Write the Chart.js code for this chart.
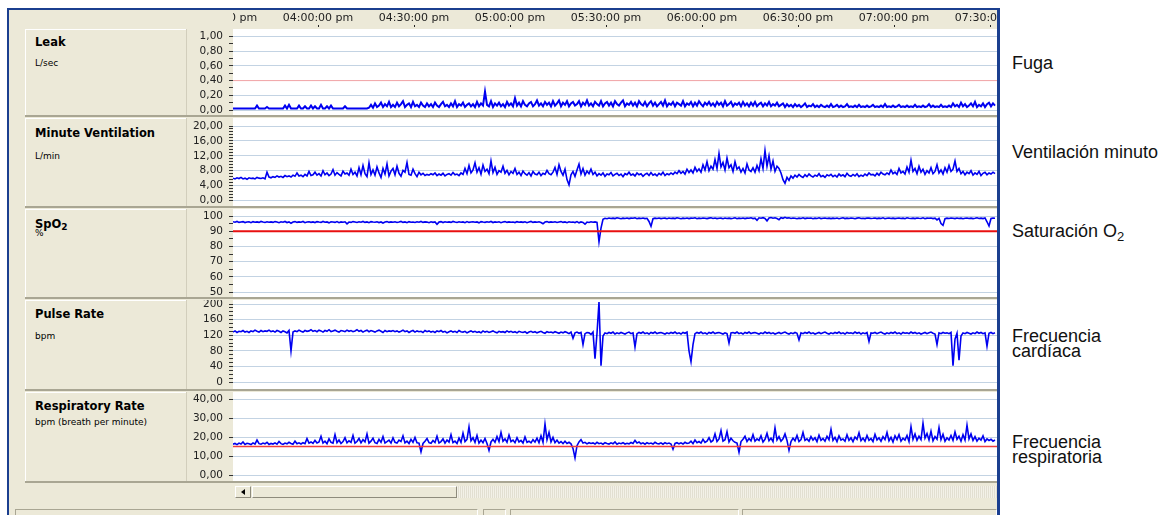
<!DOCTYPE html>
<html lang="es">
<head>
<meta charset="utf-8">
<title>Poligrafía nocturna</title>
<script src="https://cdn.jsdelivr.net/npm/chart.js@4.4.1/dist/chart.umd.min.js"></script>
<style>
  html, body { margin: 0; padding: 0; }
  body { width: 1168px; height: 515px; position: relative; overflow: hidden; background: #fff; font-family: "DejaVu Sans", sans-serif; }
  .abs { position: absolute; }
  #frame { left: 7px; top: 8px; width: 993px; height: 510px; box-sizing: border-box; background: #ECE9D8;
           border-top: 2px solid #1B3F8F; border-left: 2px solid #1B3F8F; border-right: 3px solid #1B3F8F; }
  .lbl { left: 25px; width: 162px; box-sizing: border-box; border-top: 1px solid #fff; border-left: 1px solid #fff; }
  .vsep { left: 186px; width: 1px; background: #D2CEBC; }
  .plotbg { left: 233px; width: 764px; background: #fff; }
  .hsep { left: 25px; width: 972px; height: 3px; box-sizing: border-box; background: #ECE9D8; border-top: 2px solid #A9A693; z-index: 2; }
  .title { left: 35px; font-weight: bold; font-size: 11.5px; line-height: 13px; color: #000; white-space: nowrap; }
  .title sub { font-size: 9px; vertical-align: -2px; line-height: 0; }
  .unit { left: 35px; font-size: 9px; line-height: 10px; color: #000; white-space: nowrap; }
  canvas.panel { position: absolute; left: 187px; z-index: 1; }
  #hdrWrap { left: 233px; top: 10px; width: 764px; height: 19px; overflow: hidden; }
  #hdr { position: absolute; left: -96px; top: 0; }
  .es { left: 1012px; font-family: "Liberation Sans", Arial, sans-serif; font-size: 18px; line-height: 18px; color: #111; white-space: nowrap; }
  .es2 { line-height: 15px; }
  .es sub { font-size: 13px; vertical-align: -4px; line-height: 0; }
  .btn { box-sizing: border-box; background: #ECE9D8; border-top: 1px solid #fff; border-left: 1px solid #fff;
         border-right: 1px solid #8E8B7C; border-bottom: 1px solid #8E8B7C; }
  #track { left: 457px; top: 486px; width: 540px; height: 12px;
           background: repeating-linear-gradient(90deg, #F3F1E8 0 1px, #E2DFD1 1px 2px); }
  .stat { top: 509px; height: 10px; box-sizing: border-box; background: #ECE9D8; border-top: 1px solid #A9A693; border-left: 1px solid #A9A693; border-right: 1px solid #fff; }
</style>
</head>
<body>
<div id="frame" class="abs"></div>

<!-- time header -->
<div id="hdrWrap" class="abs"><canvas id="hdr" width="956" height="19"></canvas></div>

<!-- panel backgrounds -->
<div class="abs lbl" style="top:29px;height:86px"></div>
<div class="abs lbl" style="top:118px;height:88px"></div>
<div class="abs lbl" style="top:209px;height:88px"></div>
<div class="abs lbl" style="top:300px;height:89px"></div>
<div class="abs lbl" style="top:392px;height:89px"></div>
<div class="abs vsep" style="top:29px;height:452px"></div>
<div class="abs plotbg" style="top:29px;height:86px"></div>
<div class="abs plotbg" style="top:118px;height:88px"></div>
<div class="abs plotbg" style="top:209px;height:88px"></div>
<div class="abs plotbg" style="top:300px;height:89px"></div>
<div class="abs plotbg" style="top:392px;height:89px"></div>
<div class="abs hsep" style="top:115px"></div>
<div class="abs hsep" style="top:206px"></div>
<div class="abs hsep" style="top:297px"></div>
<div class="abs hsep" style="top:389px"></div>
<div class="abs hsep" style="top:481px"></div>

<!-- channel names -->
<div class="abs title" style="top:36px">Leak</div>
<div class="abs unit" style="top:58px">L/sec</div>
<div class="abs title" style="top:127px">Minute Ventilation</div>
<div class="abs unit" style="top:151px">L/min</div>
<div class="abs title" style="top:218px">SpO<sub>2</sub></div>
<div class="abs unit" style="top:228px">%</div>
<div class="abs title" style="top:308px">Pulse Rate</div>
<div class="abs unit" style="top:331px">bpm</div>
<div class="abs title" style="top:400px">Respiratory Rate</div>
<div class="abs unit" style="top:417px">bpm (breath per minute)</div>

<!-- channel plots -->
<canvas id="cLeak" class="panel" width="810" height="86" style="top:29px"></canvas>
<canvas id="cVent" class="panel" width="810" height="88" style="top:118px"></canvas>
<canvas id="cSpo2" class="panel" width="810" height="88" style="top:209px"></canvas>
<canvas id="cPulse" class="panel" width="810" height="89" style="top:300px"></canvas>
<canvas id="cResp" class="panel" width="810" height="89" style="top:392px"></canvas>

<!-- horizontal scroll bar -->
<div class="abs btn" style="left:235px;top:486px;width:16px;height:12px"></div>
<div class="abs" style="left:241px;top:489px;width:0;height:0;border-top:3px solid transparent;border-bottom:3px solid transparent;border-right:4px solid #000"></div>
<div class="abs btn" style="left:252px;top:486px;width:205px;height:12px"></div>
<div id="track" class="abs"></div>

<!-- status bar -->
<div class="abs stat" style="left:15px;width:463px"></div>
<div class="abs stat" style="left:483px;width:23px"></div>
<div class="abs stat" style="left:510px;width:229px"></div>
<div class="abs stat" style="left:742px;width:255px"></div>

<!-- Spanish channel names -->
<div class="abs es" style="top:54px">Fuga</div>
<div class="abs es" style="top:143px">Ventilación minuto</div>
<div class="abs es" style="top:222px">Saturación O<sub>2</sub></div>
<div class="abs es es2" style="top:329px">Frecuencia<br>cardíaca</div>
<div class="abs es es2" style="top:435px">Frecuencia<br>respiratoria</div>

<script>
// ---- recording time base (clock times, afternoon) ----
const viewStart = '03:33:26 pm';
const viewEnd = '07:32:11 pm';
const sampleStart = '03:33:26 pm';
const sampleIntervalSec = 37.5;
const clockTickMinutes = 30;

// ---- channel samples (20 per row) ----
const leakValues = [
  0.02,0.02,0.02,0.02,0.02,0.02,0.02,0.02,0.02,0.02,0.02,0.02,0.06,0.02,0.02,0.02,0.02,0.04,0.02,0.02,
  0.02,0.02,0.02,0.02,0.02,0.02,0.06,0.02,0.07,0.02,0.02,0.02,0.02,0.06,0.02,0.02,0.05,0.02,0.02,0.06,
  0.02,0.05,0.02,0.02,0.07,0.02,0.02,0.05,0.02,0.06,0.02,0.02,0.02,0.02,0.02,0.02,0.05,0.02,0.02,0.02,
  0.02,0.02,0.02,0.02,0.02,0.02,0.02,0.02,0.03,0.07,0.03,0.09,0.04,0.06,0.10,0.04,0.08,0.05,0.11,0.04,
  0.07,0.04,0.10,0.05,0.08,0.12,0.04,0.07,0.09,0.04,0.11,0.05,0.07,0.04,0.10,0.06,0.04,0.09,0.05,0.08,
  0.04,0.10,0.06,0.04,0.08,0.11,0.05,0.07,0.04,0.09,0.05,0.12,0.04,0.08,0.06,0.10,0.04,0.07,0.09,0.05,
  0.08,0.04,0.11,0.05,0.09,0.06,0.25,0.07,0.05,0.12,0.04,0.09,0.06,0.10,0.05,0.08,0.04,0.11,0.06,0.09,
  0.05,0.16,0.06,0.10,0.05,0.12,0.07,0.05,0.09,0.11,0.05,0.08,0.13,0.06,0.09,0.05,0.11,0.07,0.10,0.05,
  0.12,0.06,0.09,0.13,0.05,0.10,0.07,0.12,0.05,0.09,0.11,0.06,0.08,0.12,0.05,0.10,0.07,0.13,0.06,0.09,
  0.05,0.11,0.08,0.06,0.12,0.05,0.09,0.11,0.06,0.10,0.05,0.12,0.08,0.06,0.10,0.13,0.05,0.09,0.07,0.11,
  0.06,0.10,0.05,0.12,0.08,0.06,0.11,0.05,0.09,0.12,0.06,0.10,0.05,0.08,0.11,0.06,0.13,0.05,0.09,0.07,
  0.11,0.05,0.10,0.08,0.06,0.12,0.05,0.09,0.07,0.11,0.05,0.10,0.06,0.12,0.08,0.05,0.10,0.07,0.11,0.06,
  0.09,0.05,0.11,0.07,0.10,0.05,0.12,0.06,0.08,0.11,0.05,0.09,0.07,0.10,0.05,0.11,0.06,0.09,0.05,0.10,
  0.06,0.11,0.05,0.08,0.10,0.05,0.09,0.06,0.11,0.05,0.08,0.06,0.10,0.05,0.07,0.09,0.04,0.08,0.05,0.07,
  0.04,0.08,0.05,0.07,0.04,0.06,0.09,0.04,0.06,0.05,0.08,0.04,0.06,0.04,0.07,0.05,0.04,0.06,0.04,0.08,
  0.04,0.05,0.07,0.04,0.06,0.04,0.05,0.08,0.04,0.05,0.04,0.06,0.04,0.07,0.04,0.05,0.04,0.06,0.04,0.05,
  0.07,0.04,0.05,0.04,0.06,0.04,0.08,0.04,0.05,0.04,0.06,0.04,0.05,0.07,0.04,0.05,0.04,0.06,0.04,0.05,
  0.04,0.07,0.04,0.05,0.04,0.06,0.04,0.05,0.08,0.04,0.06,0.04,0.05,0.04,0.07,0.04,0.05,0.04,0.06,0.04,
  0.09,0.05,0.07,0.04,0.10,0.05,0.08,0.04,0.06,0.09,0.05,0.11,0.04,0.07,0.05,0.09,0.04,0.08,0.10,0.05,
  0.09,0.06
];

const minuteVentValues = [
  6.0,5.8,6.1,5.9,6.2,5.8,6.0,5.7,6.1,5.9,6.0,5.8,6.2,6.0,5.9,6.1,5.8,7.6,6.3,6.1,
  6.4,6.2,6.6,6.3,6.5,6.2,6.7,6.4,6.6,6.3,6.8,6.5,7.4,6.6,6.8,6.4,7.0,6.6,7.8,6.7,
  6.9,7.6,6.8,7.2,6.6,8.0,6.9,7.4,6.7,7.1,8.3,6.8,7.5,7.0,6.6,7.9,7.1,7.4,6.8,8.4,
  7.0,7.6,6.6,8.8,6.9,9.4,7.2,6.4,10.1,7.0,8.2,6.8,9.0,7.4,6.2,8.6,7.1,9.8,6.6,7.9,
  8.6,6.9,9.2,7.3,6.5,8.1,7.6,10.2,7.0,6.8,8.4,7.2,6.4,7.6,6.9,7.3,6.7,7.0,6.8,7.2,
  6.9,7.4,6.7,7.1,6.8,7.3,6.6,7.0,7.2,6.8,7.5,6.9,7.1,6.7,7.4,7.0,8.6,7.2,9.4,7.4,
  8.2,10.1,7.6,8.8,7.1,9.5,7.8,8.4,7.2,10.6,7.5,8.9,7.0,8.0,7.6,9.2,7.3,8.1,6.9,7.8,
  7.3,8.6,7.0,7.6,6.7,7.9,7.2,6.8,7.5,6.6,7.8,7.1,6.9,7.6,6.7,7.3,7.0,8.1,7.2,6.9,
  7.6,8.9,7.0,9.6,7.8,6.8,8.4,5.6,4.2,6.9,7.8,6.5,8.2,9.8,7.1,8.6,6.8,7.9,7.2,8.4,
  7.0,7.6,6.6,7.2,6.8,7.4,6.5,7.1,6.9,7.5,6.6,7.0,7.3,6.7,7.1,6.4,7.2,6.9,7.6,6.8,
  7.1,6.6,7.4,6.9,7.2,6.5,7.0,7.3,6.7,7.5,6.8,7.1,6.6,7.3,6.9,7.6,6.7,7.2,6.9,7.4,
  7.0,7.6,7.2,8.0,7.3,7.8,7.1,8.4,7.5,8.2,7.4,8.9,7.8,8.5,7.6,9.6,8.2,10.4,8.0,9.2,
  8.4,11.0,8.6,12.6,9.0,10.2,8.2,11.4,8.8,9.6,7.8,10.4,8.4,9.0,7.6,8.6,7.4,9.8,8.2,7.8,
  8.8,7.6,9.4,8.0,11.2,8.6,13.4,9.2,12.0,8.4,10.6,7.8,9.2,8.6,7.4,5.6,4.6,6.2,5.4,6.6,
  6.0,6.8,6.3,7.0,6.5,6.2,6.9,6.4,7.1,6.6,6.3,6.8,6.5,7.2,6.4,6.7,6.2,6.9,6.6,7.0,
  6.4,6.8,6.3,7.1,6.6,6.9,6.4,7.3,6.7,6.5,7.0,6.6,7.2,6.4,6.8,6.5,7.1,6.7,7.4,6.9,
  7.0,6.6,7.3,6.8,7.6,7.1,6.9,7.4,7.0,8.2,7.2,7.6,7.0,8.6,7.4,7.8,7.1,9.0,7.6,10.8,
  7.8,8.6,7.2,9.2,7.6,8.4,7.0,8.0,7.4,8.8,7.2,7.8,9.6,7.4,8.2,7.1,8.8,7.6,9.4,7.8,
  8.4,10.6,7.8,8.6,7.2,7.8,6.9,7.6,7.2,8.0,6.8,7.4,7.0,7.8,6.7,7.3,7.6,6.9,7.4,7.1,
  7.6,7.2
];

const spo2Values = [
  96.2,95.9,96.4,95.8,96.1,96.3,95.7,96.0,96.2,95.6,96.3,95.9,96.1,95.8,96.4,96.0,95.7,96.2,95.9,96.1,
  95.8,96.3,96.0,95.6,96.2,95.9,96.4,95.7,96.1,95.2,96.0,96.3,95.8,96.1,95.9,96.4,95.6,96.0,96.2,95.8,
  96.1,95.7,96.3,96.0,95.8,96.4,95.9,96.1,95.5,96.2,96.0,95.8,96.3,95.6,96.1,95.9,96.2,94.8,96.0,95.8,
  96.3,96.0,95.7,96.2,95.9,96.4,95.8,96.1,95.6,96.3,96.0,95.9,96.2,95.7,96.1,95.4,96.0,96.3,95.8,96.1,
  95.9,96.2,95.7,96.0,96.4,95.8,96.1,95.6,96.3,95.9,96.0,95.7,96.2,95.9,96.4,95.8,96.1,96.0,95.6,96.2,
  95.8,96.1,94.6,96.0,96.3,95.7,96.2,95.9,96.1,95.8,96.4,96.0,95.7,96.2,95.9,96.1,95.6,96.3,95.8,96.0,
  96.2,95.9,96.1,95.5,96.3,96.0,95.8,96.2,95.9,96.4,95.7,96.1,95.9,96.2,95.6,96.0,96.3,95.8,96.1,95.9,
  96.0,95.7,96.3,95.9,96.1,95.8,96.2,95.6,96.0,96.4,95.8,96.1,95.9,96.2,95.7,94.9,96.0,96.3,95.8,96.1,
  95.9,96.2,95.7,96.0,96.3,95.8,96.1,95.6,96.2,95.9,96.0,95.7,96.3,95.5,96.1,95.8,94.6,96.0,95.7,96.2,
  95.9,96.1,95.8,83.0,92.0,97.8,98.5,98.2,98.7,98.4,98.6,98.3,98.8,98.5,98.2,98.6,98.4,98.7,98.3,98.6,
  98.5,98.8,98.2,98.6,98.4,98.7,98.3,98.5,96.4,93.2,98.2,98.6,98.4,98.7,98.3,98.5,98.6,98.2,98.7,98.4,
  98.6,98.3,98.8,98.5,98.2,98.6,98.4,98.7,98.3,98.6,98.5,98.8,98.2,98.6,98.4,98.7,98.5,98.3,98.6,98.8,
  98.4,98.7,98.3,98.5,98.6,98.2,98.7,98.4,98.6,98.3,98.5,98.8,98.2,98.6,98.4,98.7,98.3,98.6,98.5,98.8,
  98.3,98.6,97.2,98.8,98.5,98.9,98.4,96.8,98.7,99.0,98.5,98.8,98.3,97.6,98.9,98.5,99.1,98.6,98.8,98.4,
  98.7,98.5,98.2,98.6,98.4,98.8,98.3,98.6,98.5,98.7,98.2,98.6,98.4,98.8,98.3,98.5,98.7,98.4,98.6,98.3,
  98.6,98.4,98.7,98.2,98.5,98.8,98.3,98.6,98.4,98.7,98.5,98.2,98.6,98.8,98.4,98.5,98.3,98.7,98.6,98.4,
  98.5,98.7,98.3,98.6,98.4,98.8,98.2,98.5,98.7,98.4,98.6,98.3,98.5,98.7,98.4,98.6,98.2,98.8,98.5,98.4,
  98.6,98.3,98.7,98.5,98.4,98.8,98.2,98.6,98.5,98.7,98.3,98.6,97.4,98.5,95.0,93.8,98.2,98.6,98.4,98.7,
  98.5,98.3,98.7,98.4,98.6,98.2,98.5,98.7,98.4,98.6,98.3,98.5,98.8,98.4,98.6,98.3,98.7,96.2,93.4,98.4,
  98.6,98.5
];

const pulseValues = [
  128,131,127,130,129,132,128,130,127,131,129,133,130,128,132,129,131,130,133,129,
  131,128,132,130,127,131,129,126,132,80,128,131,129,133,130,128,132,130,131,134,
  130,132,129,133,131,128,132,130,134,129,131,133,130,128,132,131,129,133,130,132,
  129,131,134,130,132,128,131,133,129,132,130,128,131,133,130,127,132,129,131,130,
  132,129,131,128,130,133,129,131,127,130,132,128,131,129,130,127,132,129,131,128,
  130,127,131,129,132,128,130,126,129,131,128,130,127,132,129,128,130,126,129,131,
  128,130,127,129,126,131,128,130,127,129,131,128,126,130,128,129,127,131,128,130,
  127,129,126,130,128,127,129,125,128,130,127,129,126,128,130,127,125,129,127,128,
  126,129,127,125,128,126,129,127,124,128,112,126,128,125,127,96,124,127,126,122,
  128,60,125,205,42,118,126,124,127,125,128,123,126,124,127,125,123,126,128,124,
  126,90,124,127,125,128,124,126,123,127,125,128,124,126,127,125,123,126,124,127,
  125,128,124,126,123,127,125,128,80,52,96,124,127,125,128,124,126,123,127,125,
  128,124,126,127,125,123,126,124,100,126,127,125,128,124,126,123,127,125,128,124,
  126,127,125,123,126,124,128,125,127,124,126,123,125,127,124,126,128,125,123,126,
  124,127,125,108,126,124,127,125,128,124,126,123,125,127,124,126,128,125,123,126,
  124,127,125,128,124,126,123,127,125,126,124,128,125,127,123,126,124,127,104,126,
  125,127,124,126,128,125,123,126,124,127,125,128,124,126,123,127,125,126,124,128,
  125,127,124,126,123,125,127,124,126,128,125,123,96,126,124,127,125,126,124,127,
  42,110,125,56,118,126,124,127,125,123,126,124,128,125,127,124,126,92,125,127,
  124,126
];

const respRateValues = [
  16.2,16.6,16.0,16.8,16.3,17.4,16.1,16.7,16.4,16.0,16.9,16.3,18.4,16.5,16.2,16.8,16.4,17.2,16.1,16.6,
  16.3,16.9,16.2,17.6,16.5,16.1,16.8,16.4,17.2,16.6,16.2,17.8,16.4,16.9,16.3,17.0,16.5,19.2,16.8,17.4,
  16.6,18.2,16.9,17.4,20.4,16.8,17.8,16.5,19.0,17.2,16.8,21.2,17.0,18.4,16.6,17.6,19.6,16.9,18.0,17.2,
  20.8,16.8,17.6,19.2,16.9,18.6,17.4,21.6,16.8,17.8,19.4,17.0,16.6,18.8,17.2,20.2,16.9,17.6,18.4,16.8,
  19.6,17.2,16.8,18.4,17.6,20.6,16.9,17.8,16.6,18.8,17.2,19.8,17.0,16.8,12.2,16.6,17.8,19.2,17.0,16.7,
  18.2,17.1,20.4,16.9,17.6,19.0,16.8,18.4,17.3,21.2,17.0,17.8,16.6,19.4,17.2,22.0,17.6,18.8,25.4,18.0,
  19.6,17.2,20.8,16.8,18.4,17.0,19.2,16.6,13.0,17.4,18.8,17.2,20.2,17.6,22.4,17.8,19.0,17.2,21.0,17.6,
  18.4,17.0,19.6,17.4,18.2,16.8,20.0,17.2,17.8,16.9,18.6,17.3,19.4,17.0,20.6,17.2,26.8,18.6,22.4,17.4,
  19.8,17.0,18.4,16.8,17.6,16.5,17.8,16.6,17.2,16.4,14.0,9.0,15.4,17.4,18.6,16.8,17.2,16.4,17.0,16.6,
  16.9,16.3,17.2,16.5,16.8,16.2,17.0,16.6,16.3,16.9,16.4,17.4,16.2,16.8,16.5,17.0,16.3,16.7,16.4,17.1,
  16.6,18.2,16.8,17.4,16.4,16.9,16.2,17.0,16.5,16.8,16.3,17.2,16.6,16.4,16.9,16.2,17.0,16.5,16.8,16.3,
  13.6,16.6,17.0,16.4,16.9,16.3,17.2,16.6,16.8,17.8,16.5,18.4,17.0,17.6,16.8,18.8,17.2,17.8,19.6,17.4,
  18.2,21.6,17.6,19.0,23.4,17.8,18.6,22.8,17.4,19.4,18.0,17.2,16.8,12.0,17.6,18.8,20.4,17.6,19.2,18.0,
  21.2,17.8,19.0,18.2,20.6,17.4,18.8,22.0,18.0,19.4,17.6,24.8,18.4,20.2,17.8,19.0,21.6,18.2,13.0,17.6,
  19.4,18.0,20.8,17.6,18.6,22.4,18.2,19.0,17.8,20.2,18.4,19.6,17.6,21.0,18.2,19.2,17.8,20.4,18.6,24.0,
  18.2,19.8,17.6,20.6,18.4,19.0,17.8,21.2,18.2,19.6,17.6,20.0,18.8,22.2,18.0,19.4,17.8,20.8,18.2,19.2,
  17.6,21.4,18.4,19.6,17.8,20.2,18.6,22.4,18.0,19.8,17.4,20.6,18.6,21.2,17.8,19.4,18.4,20.8,17.6,25.4,
  18.8,21.6,18.2,20.4,18.6,27.2,19.4,21.8,18.4,23.0,18.0,20.2,18.8,25.0,18.6,21.4,17.8,19.6,18.4,20.8,
  18.2,22.6,18.8,20.4,17.8,21.2,18.4,26.2,19.0,21.6,18.2,20.2,17.8,19.4,18.4,20.6,17.6,19.0,18.2,18.8,
  17.8,18.4
];

// ---- alarm thresholds ----
const leakAlarm = 0.40;
const spo2Alarm = 90;
const respRateAlarm = 15;

// ---- helpers ----
function clockToMinutes(s) {            // minutes after 12:00 noon
  const [h, m, sec] = s.split(' ')[0].split(':').map(Number);
  return (h % 12) * 60 + m + sec / 60;
}
function minutesToClock(v) {
  const h = Math.floor(v / 60), m = Math.round(v - h * 60);
  const p = n => String(n).padStart(2, '0');
  return p(h) + ':' + p(m) + ':00 pm';
}

const tView0 = clockToMinutes(viewStart);
const tView1 = clockToMinutes(viewEnd);
const tSample0 = clockToMinutes(sampleStart);

function toPoints(values) {
  return values.map((v, i) => ({ x: tSample0 + i * sampleIntervalSec / 60, y: v }));
}

const TRACE = '#0000F0';
const GRID = '#C3D3E3';
const TICK_FONT = { family: 'DejaVu Sans', size: 10.5 };

// fixed-width value axis; the plot height is set only by the layout padding
function fixAxisBox(s) {
  s.width = 46;
  s.paddingTop = 0;
  s.paddingBottom = 0;
}

function channelChart(cfg) {
  const isMajor = v => Math.abs(v / cfg.major - Math.round(v / cfg.major)) < 1e-6;
  const datasets = [];
  if (cfg.alarm !== undefined) {
    datasets.push({
      data: [{ x: tView0, y: cfg.alarm }, { x: tView1, y: cfg.alarm }],
      borderColor: cfg.alarmColor, borderWidth: cfg.alarmWidth, pointRadius: 0
    });
  }
  datasets.push({
    data: toPoints(cfg.values),
    borderColor: TRACE, borderWidth: cfg.traceWidth || 1.6, pointRadius: 0, tension: 0,
    clip: cfg.clip || undefined
  });
  return new Chart(document.getElementById(cfg.id), {
    type: 'line',
    data: { datasets },
    options: {
      responsive: false, animation: false, events: [],
      layout: { autoPadding: false, padding: { top: cfg.padTop, bottom: cfg.padBottom, left: 0, right: 0 } },
      plugins: { legend: { display: false }, tooltip: { enabled: false } },
      scales: {
        x: { type: 'linear', min: tView0, max: tView1, display: false },
        y: {
          min: cfg.min, max: cfg.max,
          afterFit: fixAxisBox,
          border: { display: false },
          grid: {
            color: c => (c.tick && isMajor(c.tick.value)) ? GRID : 'rgba(0,0,0,0)',
            tickColor: '#333', tickLength: 4, lineWidth: 1
          },
          ticks: {
            stepSize: cfg.minor, maxTicksLimit: 1000, autoSkip: false, padding: 6,
            color: '#222', font: TICK_FONT,
            callback: v => isMajor(v) ? v.toFixed(cfg.decimals).replace('.', ',') : ''
          }
        }
      }
    }
  });
}

channelChart({ id: 'cLeak', values: leakValues, alarm: leakAlarm, alarmColor: '#F6A6A6', alarmWidth: 1,
  min: 0, max: 1, major: 0.2, minor: 0.1, decimals: 2, padTop: 7.5, padBottom: 5, traceWidth: 2 });
channelChart({ id: 'cVent', values: minuteVentValues,
  min: 0, max: 20, major: 4, minor: 0.8, decimals: 2, padTop: 8, padBottom: 5.5 });
channelChart({ id: 'cSpo2', values: spo2Values, alarm: spo2Alarm, alarmColor: '#E81010', alarmWidth: 2,
  min: 50, max: 100, major: 10, minor: 5, decimals: 0, padTop: 7, padBottom: 5 });
channelChart({ id: 'cPulse', values: pulseValues,
  min: 0, max: 200, major: 40, minor: 10, decimals: 0, padTop: 4, padBottom: 7,
  clip: { left: 0, top: 5, right: 0, bottom: 0 } });
channelChart({ id: 'cResp', values: respRateValues, alarm: respRateAlarm, alarmColor: '#F03C3C', alarmWidth: 1.5,
  min: 0, max: 40, major: 10, minor: 10, decimals: 2, padTop: 7, padBottom: 6 });

// ---- clock time header ----
new Chart(document.getElementById('hdr'), {
  type: 'line',
  data: { datasets: [] },
  options: {
    responsive: false, animation: false, events: [],
    layout: { autoPadding: false, padding: 0 },
    plugins: { legend: { display: false }, tooltip: { enabled: false } },
    scales: {
      x: {
        type: 'linear', position: 'top',
        min: tView0 - clockTickMinutes, max: tView1 + clockTickMinutes,
        afterFit: s => { s.height = 17; s.paddingLeft = 0; s.paddingRight = 0; },
        border: { display: false },
        grid: { drawOnChartArea: false, tickLength: 2, tickColor: '#222' },
        ticks: {
          stepSize: clockTickMinutes, includeBounds: false, autoSkip: false, maxRotation: 0, padding: 0,
          color: '#222', font: { family: 'DejaVu Sans', size: 11 },
          callback: v => minutesToClock(v)
        }
      },
      y: { display: false }
    }
  }
});
</script>
</body>
</html>
